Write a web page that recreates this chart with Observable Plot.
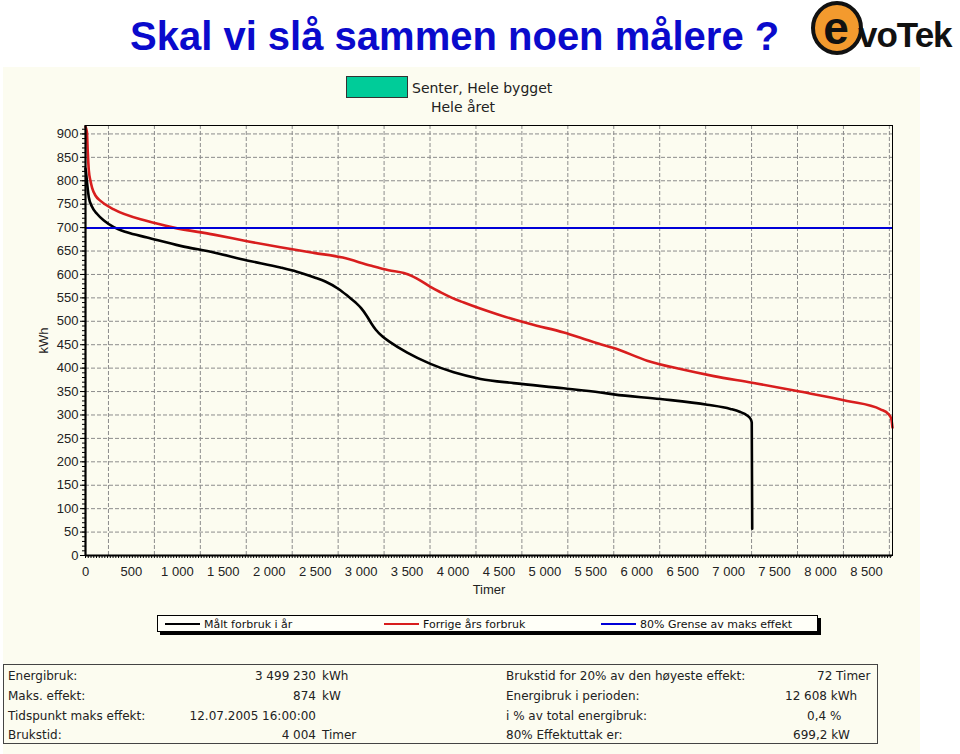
<!DOCTYPE html>
<html>
<head>
<meta charset="utf-8">
<script src="https://cdn.jsdelivr.net/npm/d3@7"></script>
<script src="https://cdn.jsdelivr.net/npm/@observablehq/plot@0.6"></script>
<style>
  html, body { margin: 0; padding: 0; background: #ffffff; }
  #page { position: relative; width: 960px; height: 754px; overflow: hidden; background: #ffffff; }
  #panel { position: absolute; left: 3px; top: 67px; width: 917px; height: 687px; background: #fcfcf0; }
  #chart { position: absolute; left: 0px; top: 68px; }
  #overlay { position: absolute; left: 0; top: 0; }
</style>
</head>
<body>
<div id="page">
  <div id="panel"></div>
  <div id="chart"></div>
  <svg id="overlay" width="960" height="754"></svg>
</div>
<script>
// ---------- DATA ----------
const titleText = "Skal vi slå sammen noen målere ?";
const logoLetter = "e";
const logoRest = "voTek";
const topLegendLines = ["Senter, Hele bygget", "Hele året"];

const xTicks = [0, 500, 1000, 1500, 2000, 2500, 3000, 3500, 4000, 4500, 5000, 5500, 6000, 6500, 7000, 7500, 8000, 8500];
const xTickLabels = ["0", "500", "1 000", "1 500", "2 000", "2 500", "3 000", "3 500", "4 000", "4 500", "5 000", "5 500", "6 000", "6 500", "7 000", "7 500", "8 000", "8 500"];
const xGridLines = [250, 750, 1250, 1750, 2250, 2750, 3250, 3750, 4250, 4750, 5250, 5750, 6250, 6750, 7250, 7750, 8250, 8750];
const yTicks = [0, 50, 100, 150, 200, 250, 300, 350, 400, 450, 500, 550, 600, 650, 700, 750, 800, 850, 900];
const xLabel = "Timer";
const yLabel = "kWh";

// Målt forbruk i år (duration curve, black)
const blackHours = [0, 10, 20, 36, 70, 127, 200, 308, 450, 671, 1034, 1396, 1759, 2122, 2300, 2485, 2610, 2755, 2860, 2940, 3000, 3060, 3110, 3160, 3230, 3320, 3502, 3755, 4008, 4300, 4660, 5203, 5606, 5750, 6259, 6767, 7020, 7120, 7202, 7238, 7252, 7257];
const blackKwh   = [826, 810, 790, 765, 745, 729, 715, 701, 690, 679, 661, 647, 630, 615, 606, 594, 585, 569, 553, 540, 528, 512, 496, 482, 468, 455, 433, 409, 391, 377, 368, 357, 348, 344, 334, 322, 313, 307, 299, 292, 284, 57];

// Forrige års forbruk (red)
const redHours = [0, 15, 25, 36, 54, 72, 110, 163, 308, 671, 961, 1396, 1759, 2122, 2485, 2800, 3100, 3300, 3465, 3560, 3646, 3750, 3865, 3990, 4118, 4481, 4843, 5207, 5388, 5606, 5750, 6113, 6476, 6839, 7257, 7746, 8290, 8653, 8740, 8770, 8784];
const redKwh   = [915, 905, 860, 822, 800, 785, 768, 757, 739, 714, 700, 685, 671, 658, 646, 636, 619, 609, 603, 596, 587, 574, 562, 550, 540, 515, 494, 476, 465, 451, 443, 416, 398, 383, 369, 351, 330, 312, 302, 292, 273];

// 80% Grense av maks effekt (blue)
const limitKw = [699.2];

const seriesNames = ["Målt forbruk i år", "Forrige års forbruk", "80% Grense av maks effekt"];
const seriesColors = ["#000000", "#d81e1e", "#0000d8"];

const tableLeftLabels = ["Energibruk:", "Maks. effekt:", "Tidspunkt maks effekt:", "Brukstid:"];
const tableLeftValues = ["3 499 230", "874", "12.07.2005 16:00:00", "4 004"];
const tableLeftUnits  = ["kWh", "kW", "", "Timer"];
const tableRightLabels = ["Brukstid for 20% av den høyeste effekt:", "Energibruk i perioden:", "i % av total energibruk:", "80% Effektuttak er:"];
const tableRightValues = ["72 Timer", "12 608 kWh", "0,4 %", "699,2 kW"];

// ---------- LAYOUT ----------
const bg = "#fcfcf0";
const rightValueX = [817, 785, 807, 793];
const rowBaselines = [680, 700, 720, 739];

const minorX = d3.range(0, 8784, 30);
const minorY = d3.range(0, 918, 10);
const xLabelMap = new Map(xTicks.map((t, i) => [t, xTickLabels[i]]));

const chart = Plot.plot({
  width: 920,
  height: 541,
  marginLeft: 85,
  marginRight: 28,
  marginTop: 57,
  marginBottom: 54,
  style: { background: "transparent", fontFamily: "'Liberation Sans', Arial, sans-serif", fontSize: "13px", color: "#222" },
  x: { domain: [0, 8784], label: null },
  y: { domain: [0, 918], label: null },
  marks: [
    Plot.gridY(yTicks.filter(d => d > 0), { stroke: "#8c8c8c", strokeOpacity: 1, strokeDasharray: "4,2" }),
    Plot.gridX(xGridLines, { stroke: "#8c8c8c", strokeOpacity: 1, strokeDasharray: "4,2" }),
    Plot.axisY(yTicks, { tickSize: 5, tickPadding: 2, fontSize: 13, color: "#222", stroke: "#000" }),
    Plot.axisY(minorY, { tickSize: 3, tickFormat: () => "", stroke: "#000" }),
    Plot.axisX(xTicks, { tickSize: 0, tickPadding: 11, fontSize: 13, color: "#222", tickFormat: d => xLabelMap.get(d) }),
    Plot.axisX(minorX, { tickSize: 3, tickFormat: () => "", stroke: "#000" }),
    Plot.line(redHours, { x: redHours, y: redKwh, stroke: seriesColors[1], strokeWidth: 2.6, curve: "monotone-x" }),
    Plot.line(blackHours, { x: blackHours, y: blackKwh, stroke: seriesColors[0], strokeWidth: 2.6, curve: "monotone-x" }),
    Plot.ruleY(limitKw, { stroke: seriesColors[2], strokeWidth: 2.2 }),
    Plot.frame({ stroke: "#000", strokeWidth: 1 }),
    Plot.ruleX([0], { stroke: "#000", strokeWidth: 2.2 }),
    Plot.ruleY([0], { stroke: "#000", strokeWidth: 2.2 }),
    Plot.text([yLabel], { frameAnchor: "left", textAnchor: "middle", lineAnchor: "middle", dx: -41.5, rotate: -90, fontSize: 13, fill: "#222" }),
    Plot.text([xLabel], { frameAnchor: "bottom", textAnchor: "middle", lineAnchor: "middle", dy: 34, fontSize: 13, fill: "#222" })
  ]
});
document.getElementById("chart").appendChild(chart);

// ---------- OVERLAY (title, logo, legends, table) ----------
const svg = d3.select("#overlay");
const vfont = "'DejaVu Sans', Verdana, sans-serif";

svg.append("text").attr("x", 130).attr("y", 50)
  .attr("font-family", "'Liberation Sans', Arial, sans-serif").attr("font-weight", "bold")
  .attr("font-size", 40).attr("fill", "#0a0acc").text(titleText);

// logo
svg.append("ellipse").attr("cx", 837).attr("cy", 28).attr("rx", 24).attr("ry", 25)
  .attr("fill", "#f39a2e").attr("stroke", "#111").attr("stroke-width", 4);
svg.append("text").attr("x", 836).attr("y", 44).attr("text-anchor", "middle")
  .attr("font-family", "'Liberation Sans', Arial, sans-serif").attr("font-weight", "bold")
  .attr("font-size", 46).attr("fill", "#111").text(logoLetter);
svg.append("text").attr("x", 858).attr("y", 47)
  .attr("font-family", "'Liberation Sans', Arial, sans-serif").attr("font-weight", "bold")
  .attr("font-size", 35).attr("letter-spacing", -1).attr("fill", "#111").text(logoRest);

// top legend
svg.append("rect").attr("x", 346.5).attr("y", 76.5).attr("width", 61).attr("height", 21)
  .attr("fill", "#00cc99").attr("stroke", "#333").attr("stroke-width", 1);
svg.append("text").attr("x", 412).attr("y", 93).attr("font-family", vfont).attr("font-size", 14)
  .attr("fill", "#222").text(topLegendLines[0]);
svg.append("text").attr("x", 463).attr("y", 112).attr("text-anchor", "middle").attr("font-family", vfont).attr("font-size", 14)
  .attr("fill", "#222").text(topLegendLines[1]);

// bottom legend box
svg.append("rect").attr("x", 160).attr("y", 618).attr("width", 661).attr("height", 17).attr("fill", "#000");
svg.append("rect").attr("x", 157.5).attr("y", 615.5).attr("width", 660).attr("height", 16)
  .attr("fill", "#fffff8").attr("stroke", "#000").attr("stroke-width", 1);
const legX = [165, 384, 601];
seriesNames.forEach((name, i) => {
  svg.append("line").attr("x1", legX[i]).attr("x2", legX[i] + 35).attr("y1", 624).attr("y2", 624)
    .attr("stroke", seriesColors[i]).attr("stroke-width", 2);
  svg.append("text").attr("x", legX[i] + 39).attr("y", 628).attr("font-family", vfont)
    .attr("font-size", 11).attr("fill", "#111").text(name);
});

// info table
svg.append("rect").attr("x", 3.5).attr("y", 664.5).attr("width", 874).attr("height", 79)
  .attr("fill", bg).attr("stroke", "#444").attr("stroke-width", 1);
tableLeftLabels.forEach((lab, i) => {
  const y = rowBaselines[i];
  svg.append("text").attr("x", 8).attr("y", y).attr("font-family", vfont).attr("font-size", 12).attr("fill", "#222").text(lab);
  svg.append("text").attr("x", 316).attr("y", y).attr("text-anchor", "end").attr("font-family", vfont).attr("font-size", 12).attr("fill", "#222").text(tableLeftValues[i]);
  if (tableLeftUnits[i]) svg.append("text").attr("x", 322).attr("y", y).attr("font-family", vfont).attr("font-size", 12).attr("fill", "#222").text(tableLeftUnits[i]);
});
tableRightLabels.forEach((lab, i) => {
  const y = rowBaselines[i];
  svg.append("text").attr("x", 506).attr("y", y).attr("font-family", vfont).attr("font-size", 12).attr("fill", "#222").text(lab);
  svg.append("text").attr("x", rightValueX[i]).attr("y", y).attr("font-family", vfont).attr("font-size", 12).attr("fill", "#222").text(tableRightValues[i]);
});
</script>
</body>
</html>
